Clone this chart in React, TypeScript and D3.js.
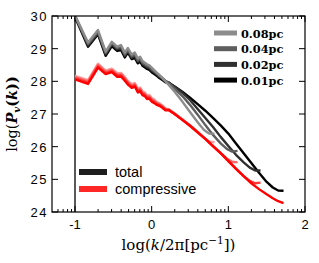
import React, { useRef, useEffect } from "react";
import * as d3 from "d3";

// shared low-k sampling (log(k/2pi))
const kLow = [-1, -0.83, -0.7, -0.6, -0.52, -0.45, -0.4, -0.35, -0.31, -0.26, -0.22, -0.18, -0.15, -0.12, -0.09, -0.06, -0.03, 0, 0.03, 0.06, 0.1, 0.14, 0.18];

const total001Low = [29.97, 29.06, 29.44, 28.78, 29.08, 28.93, 28.96, 28.73, 28.88, 28.68, 28.72, 28.55, 28.6, 28.48, 28.43, 28.38, 28.35, 28.28, 28.23, 28.18, 28.1, 28.04, 27.97];
const total002Low = [30.0, 29.1, 29.48, 28.83, 29.13, 28.98, 29.02, 28.78, 28.93, 28.72, 28.78, 28.6, 28.66, 28.53, 28.48, 28.43, 28.4, 28.33, 28.28, 28.22, 28.14, 28.08, 28.0];
const total004Low = [30.0, 29.14, 29.52, 28.87, 29.17, 29.02, 29.06, 28.82, 28.97, 28.77, 28.82, 28.64, 28.7, 28.57, 28.52, 28.47, 28.44, 28.37, 28.31, 28.25, 28.17, 28.1, 28.02];
const total008Low = [30.02, 29.19, 29.57, 28.91, 29.21, 29.06, 29.11, 28.88, 29.02, 28.82, 28.88, 28.7, 28.75, 28.62, 28.57, 28.52, 28.49, 28.42, 28.35, 28.28, 28.2, 28.1, 28.0];

const comp001Low = [28.06, 27.92, 28.42, 28.22, 28.28, 28.14, 28.15, 28.02, 27.9, 27.8, 27.84, 27.66, 27.7, 27.58, 27.55, 27.46, 27.47, 27.38, 27.34, 27.29, 27.25, 27.19, 27.11];
const comp002Low = [28.1, 27.96, 28.46, 28.26, 28.32, 28.18, 28.19, 28.06, 27.94, 27.84, 27.88, 27.7, 27.74, 27.62, 27.59, 27.5, 27.51, 27.42, 27.38, 27.32, 27.28, 27.22, 27.14];
const comp004Low = [28.13, 28.0, 28.5, 28.29, 28.35, 28.21, 28.22, 28.09, 27.97, 27.87, 27.91, 27.73, 27.77, 27.65, 27.62, 27.53, 27.54, 27.45, 27.41, 27.35, 27.3, 27.24, 27.15];
const comp008Low = [28.17, 28.04, 28.54, 28.33, 28.39, 28.25, 28.26, 28.13, 28.01, 27.91, 27.95, 27.77, 27.81, 27.69, 27.66, 27.57, 27.58, 27.49, 27.45, 27.38, 27.33, 27.26, 27.17];

// high-k tails per resolution
const kTail008 = [0.22, 0.3, 0.4, 0.5, 0.6, 0.68, 0.75, 0.82];
const total008Tail = [27.9, 27.68, 27.38, 27.06, 26.75, 26.52, 26.4, 26.4];
const comp008Tail = [27.15, 27.02, 26.84, 26.65, 26.45, 26.28, 26.16, 26.13];

const kTail004 = [0.22, 0.3, 0.4, 0.5, 0.6, 0.7, 0.8, 0.9, 0.98, 1.05, 1.12];
const total004Tail = [27.95, 27.78, 27.55, 27.28, 26.98, 26.66, 26.36, 26.1, 25.93, 25.85, 25.87];
const comp004Tail = [27.14, 27.0, 26.83, 26.65, 26.45, 26.24, 26.02, 25.8, 25.64, 25.54, 25.52];

const kTail002 = [0.22, 0.3, 0.4, 0.5, 0.6, 0.7, 0.8, 0.9, 1.0, 1.1, 1.2, 1.28, 1.35, 1.42];
const total002Tail = [27.97, 27.83, 27.65, 27.43, 27.15, 26.88, 26.6, 26.3, 26.02, 25.75, 25.52, 25.36, 25.27, 25.27];
const comp002Tail = [27.13, 27.0, 26.82, 26.64, 26.44, 26.24, 26.02, 25.8, 25.57, 25.33, 25.1, 24.95, 24.88, 24.9];

const kTail001 = [0.22, 0.3, 0.4, 0.5, 0.6, 0.7, 0.8, 0.9, 1.0, 1.1, 1.2, 1.3, 1.4, 1.5, 1.58, 1.65, 1.72];
const total001Tail = [27.96, 27.84, 27.68, 27.5, 27.3, 27.1, 26.88, 26.65, 26.4, 26.1, 25.8, 25.5, 25.2, 24.92, 24.75, 24.66, 24.65];
const comp001Tail = [27.12, 27.0, 26.82, 26.64, 26.44, 26.24, 26.02, 25.8, 25.56, 25.32, 25.1, 24.88, 24.7, 24.54, 24.42, 24.33, 24.27];

const resolutions = ["0.08pc", "0.04pc", "0.02pc", "0.01pc"];
const grayColors = ["#8c8c8c", "#5e5e5e", "#303030", "#000000"];
const redColors = ["#ff9a9a", "#ff6868", "#ff3636", "#ff0000"];

const xTicks = [-1, 0, 1, 2];
const xTickLabels = ["-1", "0", "1", "2"];
const yTicks = [24, 25, 26, 27, 28, 29, 30];

export default function App() {
  const svgRef = useRef<SVGSVGElement>(null);

  useEffect(() => {
    if (!svgRef.current) return;
    const svg = d3.select(svgRef.current);
    svg.selectAll("*").remove();

    const width = 319;
    const height = 263;
    const margin = { top: 16, right: 14, bottom: 51, left: 52 };
    const innerWidth = width - margin.left - margin.right;
    const innerHeight = height - margin.top - margin.bottom;

    const x = d3.scaleLinear().domain([-1.3, 2]).range([0, innerWidth]);
    const y = d3.scaleLinear().domain([24, 30]).range([innerHeight, 0]);

    const g = svg
      .append("g")
      .attr("transform", `translate(${margin.left},${margin.top})`);

    svg
      .append("defs")
      .append("clipPath")
      .attr("id", "plot-clip")
      .append("rect")
      .attr("width", innerWidth)
      .attr("height", innerHeight);

    // vertical marker at log k = -1
    g.append("line")
      .attr("x1", x(-1))
      .attr("x2", x(-1))
      .attr("y1", 0)
      .attr("y2", innerHeight)
      .attr("stroke", "#222")
      .attr("stroke-width", 1.5);

    const build = (lowVals: number[], tailK: number[], tailVals: number[]) =>
      kLow
        .map((k, i) => [k, lowVals[i]] as [number, number])
        .concat(tailK.map((k, i) => [k, tailVals[i]] as [number, number]));

    const totals = [
      build(total008Low, kTail008, total008Tail),
      build(total004Low, kTail004, total004Tail),
      build(total002Low, kTail002, total002Tail),
      build(total001Low, kTail001, total001Tail),
    ];
    const comps = [
      build(comp008Low, kTail008, comp008Tail),
      build(comp004Low, kTail004, comp004Tail),
      build(comp002Low, kTail002, comp002Tail),
      build(comp001Low, kTail001, comp001Tail),
    ];

    const line = d3
      .line<[number, number]>()
      .x((d) => x(d[0]))
      .y((d) => y(d[1]));

    const curves = g.append("g").attr("clip-path", "url(#plot-clip)");
    // compressive: coarse first, finest (brightest red) on top
    [0, 1, 2, 3].forEach((i) => {
      curves
        .append("path")
        .datum(comps[i])
        .attr("fill", "none")
        .attr("stroke", redColors[i])
        .attr("stroke-width", 2.4)
        .attr("stroke-linejoin", "round")
        .attr("d", line);
    });
    // total: finest first, coarser greys on top
    [3, 2, 1, 0].forEach((i) => {
      curves
        .append("path")
        .datum(totals[i])
        .attr("fill", "none")
        .attr("stroke", grayColors[i])
        .attr("stroke-width", 2.4)
        .attr("stroke-linejoin", "round")
        .attr("d", line);
    });

    // frame
    g.append("rect")
      .attr("width", innerWidth)
      .attr("height", innerHeight)
      .attr("fill", "none")
      .attr("stroke", "#000")
      .attr("stroke-width", 1.2);

    // x ticks: major + log minor, inward on bottom and top
    const minor: number[] = [];
    [-2, -1, 0, 1].forEach((dec) => {
      for (let m = 2; m <= 9; m++) {
        const v = dec + Math.log10(m);
        if (v > -1.3 && v < 2) minor.push(v);
      }
    });
    const tickG = g.append("g").attr("stroke", "#000").attr("stroke-width", 1);
    xTicks.forEach((t) => {
      tickG.append("line").attr("x1", x(t)).attr("x2", x(t)).attr("y1", innerHeight).attr("y2", innerHeight - 6);
      tickG.append("line").attr("x1", x(t)).attr("x2", x(t)).attr("y1", 0).attr("y2", 6);
    });
    minor.forEach((t) => {
      tickG.append("line").attr("x1", x(t)).attr("x2", x(t)).attr("y1", innerHeight).attr("y2", innerHeight - 3);
      tickG.append("line").attr("x1", x(t)).attr("x2", x(t)).attr("y1", 0).attr("y2", 3);
    });
    yTicks.forEach((t) => {
      tickG.append("line").attr("x1", 0).attr("x2", 6).attr("y1", y(t)).attr("y2", y(t));
      tickG.append("line").attr("x1", innerWidth).attr("x2", innerWidth - 6).attr("y1", y(t)).attr("y2", y(t));
    });

    // tick labels
    g.selectAll(".xlab")
      .data(xTicks)
      .enter()
      .append("text")
      .attr("x", (d) => x(d))
      .attr("y", innerHeight + 17)
      .attr("text-anchor", "middle")
      .style("font-family", "'Liberation Sans', Arial, sans-serif")
      .style("font-size", "13px")
      .text((d, i) => xTickLabels[i]);

    g.selectAll(".ylab")
      .data(yTicks)
      .enter()
      .append("text")
      .attr("x", -4)
      .attr("y", (d) => y(d) + 5)
      .attr("text-anchor", "end")
      .style("font-family", "'Liberation Sans', Arial, sans-serif")
      .style("font-size", "13px")
      .style("letter-spacing", "1.5px")
      .text((d) => String(d));

    // axis titles
    const xt = g
      .append("text")
      .attr("x", innerWidth / 2)
      .attr("y", innerHeight + 38)
      .attr("text-anchor", "middle")
      .style("font-family", "'DejaVu Serif', serif")
      .style("font-size", "15px");
    xt.append("tspan").text("log(");
    xt.append("tspan").style("font-style", "italic").text("k");
    xt.append("tspan").text("/2π[pc");
    xt.append("tspan").attr("dy", -6).style("font-size", "10.5px").text("−1");
    xt.append("tspan").attr("dy", 6).text("])");

    const yt = g
      .append("text")
      .attr("transform", `translate(${-35},${innerHeight / 2}) rotate(-90)`)
      .attr("text-anchor", "middle")
      .style("font-family", "'DejaVu Serif', serif")
      .style("font-size", "14.5px");
    yt.append("tspan").text("log(");
    yt.append("tspan").style("font-style", "italic").style("font-weight", "bold").text("P");
    yt.append("tspan").attr("dy", 3).style("font-size", "10px").style("font-style", "italic").style("font-weight", "bold").text("v");
    yt.append("tspan").attr("dy", -3).style("font-weight", "bold").text("(");
    yt.append("tspan").style("font-style", "italic").style("font-weight", "bold").text("k");
    yt.append("tspan").style("font-weight", "bold").text("))");

    // resolution legend (top right)
    const leg = g.append("g").attr("transform", `translate(${innerWidth - 91}, 17)`);
    resolutions.forEach((r, i) => {
      leg.append("line")
        .attr("x1", 0).attr("x2", 23)
        .attr("y1", i * 15.7).attr("y2", i * 15.7)
        .attr("stroke", grayColors[i])
        .attr("stroke-width", 5);
      leg.append("text")
        .attr("x", 27)
        .attr("y", i * 15.7 + 4.5)
        .style("font-family", "'DejaVu Serif', serif")
        .style("font-weight", "bold")
        .style("font-size", "11.3px")
        .text(r);
    });

    // type legend (bottom left)
    const types = [
      { label: "total", color: "#1e1e1e" },
      { label: "compressive", color: "#ff2626" },
    ];
    const leg2 = g.append("g").attr("transform", `translate(${x(-1) + 4}, ${innerHeight - 40})`);
    types.forEach((t, i) => {
      leg2.append("line")
        .attr("x1", 0).attr("x2", 28)
        .attr("y1", i * 17).attr("y2", i * 17)
        .attr("stroke", t.color)
        .attr("stroke-width", 6);
      leg2.append("text")
        .attr("x", 36)
        .attr("y", i * 17 + 5)
        .style("font-family", "'Liberation Sans', Arial, sans-serif")
        .style("font-size", "14.5px")
        .text(t.label);
    });
  }, []);

  return (
    <svg
      ref={svgRef}
      width={319}
      height={263}
      style={{ position: "absolute", left: 0, top: 0, background: "#fff" }}
    />
  );
}
